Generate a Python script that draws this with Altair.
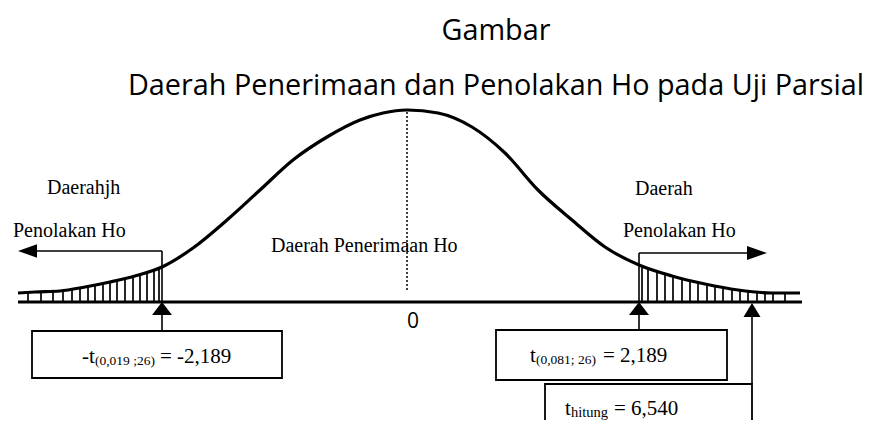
import altair as alt
import pandas as pd

# ---------------- values ----------------
title_lines = ["Gambar", "Daerah Penerimaan dan Penolakan Ho pada Uji Parsial"]

# bell curve outline (x: offset from the centre line, y: height above the axis)
curve_x = [-389, -372, -347, -322, -297, -272, -245, -214, -180, -147, -114, -80, -47, -24, 0,
           31, 65, 98, 131, 165, 198, 232, 265, 298, 331, 365, 393]
curve_y = [9, 10, 11, 15, 20, 26, 35, 54, 82, 112, 142, 165, 182, 189, 192,
           189, 175, 149, 112, 82, 55, 37, 26, 18, 12, 9, 9]

# hatching in the two rejection tails
hatch_left_x = [-379, -366, -354, -344, -335, -327, -319, -312, -304, -297, -290,
                -282, -274, -267, -260, -253, -248]
hatch_right_x = [235, 241, 250, 258, 266, 275, 283, 291, 300, 308, 316, 325, 333,
                 341, 350, 358, 366, 378]

# marker positions on the axis
crit_left_pos = -245
crit_right_pos = 232
t_hitung_pos = 345

region_labels = ["Daerahjh", "Penolakan Ho", "Daerah Penerimaan Ho", "Daerah", "Penolakan Ho"]
t_crit_left_label = ["-t", "(0,019 ;26)", "= -2,189"]
t_crit_right_label = ["t", "(0,081; 26)", "= 2,189"]
t_hitung_label = ["t", "hitung", "= 6,540"]
centre_label = "0"

# ---------------- layout tables ----------------
curve = pd.DataFrame({"x": curve_x, "y": curve_y})
hatch = pd.DataFrame({"x": hatch_left_x + hatch_right_x})

segments = pd.DataFrame([
    # axis
    {"x": -389, "y": 0, "x2": 395, "y2": 0, "w": 3.2},
    # left critical line + arrow shaft
    {"x": crit_left_pos, "y": 0, "x2": crit_left_pos, "y2": 51, "w": 1.6},
    {"x": crit_left_pos, "y": 51, "x2": -370, "y2": 51, "w": 1.6},
    # right critical line + arrow shaft
    {"x": crit_right_pos, "y": 0, "x2": crit_right_pos, "y2": 49, "w": 1.6},
    {"x": crit_right_pos, "y": 49, "x2": 340, "y2": 49, "w": 1.6},
    # stems below the axis
    {"x": crit_left_pos, "y": -13, "x2": crit_left_pos, "y2": -29, "w": 1.6},
    {"x": crit_right_pos, "y": -13, "x2": crit_right_pos, "y2": -28, "w": 1.6},
    {"x": t_hitung_pos, "y": -14, "x2": t_hitung_pos, "y2": -82, "w": 1.6},
])

boxes = pd.DataFrame([
    {"x": -375, "x2": -125, "y": -29, "y2": -76},
    {"x": 89, "x2": 320, "y": -28, "y2": -78},
    {"x": 138, "x2": t_hitung_pos, "y": -82, "y2": -135},
])

heads_left = pd.DataFrame([{"x": -379.5, "y": 51}])
heads_right = pd.DataFrame([{"x": 350, "y": 49}])
heads_up = pd.DataFrame([{"x": crit_left_pos, "y": -6.5}, {"x": crit_right_pos, "y": -6.5}])
head_hitung = pd.DataFrame([{"x": t_hitung_pos, "y": -8}])

serif_texts = pd.DataFrame(
    [
        {"text": region_labels[0], "x": -360, "y": 108, "size": 20},
        {"text": region_labels[1], "x": -394, "y": 65, "size": 20},
        {"text": region_labels[2], "x": -136, "y": 50, "size": 20},
        {"text": region_labels[3], "x": 228, "y": 107, "size": 20},
        {"text": region_labels[4], "x": 216, "y": 65, "size": 20},
        {"text": t_crit_left_label[0], "x": -325, "y": -61, "size": 21},
        {"text": t_crit_left_label[1], "x": -312, "y": -63, "size": 13.5},
        {"text": t_crit_left_label[2], "x": -247, "y": -61, "size": 21},
        {"text": t_crit_right_label[0], "x": 123, "y": -60, "size": 21},
        {"text": t_crit_right_label[1], "x": 129, "y": -62, "size": 13.5},
        {"text": t_crit_right_label[2], "x": 196, "y": -60, "size": 21},
        {"text": t_hitung_label[0], "x": 158, "y": -113, "size": 21},
        {"text": t_hitung_label[1], "x": 164, "y": -115, "size": 14.5},
        {"text": t_hitung_label[2], "x": 207, "y": -113, "size": 21},
    ]
)

sans_texts = pd.DataFrame(
    [
        {"text": title_lines[0], "x": 89, "y": 262, "size": 28.8},
        {"text": title_lines[1], "x": 89, "y": 207, "size": 28.8},
        {"text": centre_label, "x": 6, "y": -26, "size": 21},
    ]
)

# ---------------- scales ----------------
xs = alt.Scale(domain=[-399, 457], nice=False, zero=False)
ys = alt.Scale(domain=[-118, 294], nice=False, zero=False)
X = lambda f="x": alt.X(f"{f}:Q", scale=xs, axis=None)
Y = lambda f="y": alt.Y(f"{f}:Q", scale=ys, axis=None)

hatch_layer = alt.Chart(hatch).mark_rule(color="black", strokeWidth=1.7).encode(
    x=X(), y=Y("y0"), y2=alt.Y2("y1:Q"),
).transform_calculate(y0="0", y1="38")

mask_layer = alt.Chart(curve).mark_area(color="white", interpolate="monotone", opacity=1).encode(
    x=X(), y=Y(), y2=alt.Y2("top:Q"),
).transform_calculate(top="42")

segment_layer = alt.Chart(segments).mark_rule(color="black").encode(
    x=X(), y=Y(), x2=alt.X2("x2:Q"), y2=alt.Y2("y2:Q"),
    strokeWidth=alt.StrokeWidth("w:Q", scale=None),
)

curve_layer = alt.Chart(curve).mark_line(color="black", strokeWidth=3.2, interpolate="monotone").encode(
    x=X(), y=Y(),
)

dotted_layer = alt.Chart(pd.DataFrame([{"x": 0, "y": 12, "y2": 191}])).mark_rule(
    color="black", strokeWidth=1.5, strokeDash=[2, 2]
).encode(x=X(), y=Y(), y2=alt.Y2("y2:Q"))

box_layer = alt.Chart(boxes).mark_rect(fill="white", stroke="black", strokeWidth=1.8).encode(
    x=X(), x2=alt.X2("x2:Q"), y=Y(), y2=alt.Y2("y2:Q"),
)

def head(df, shape, size):
    return alt.Chart(df).mark_point(
        shape=shape, size=size, filled=True, color="black", opacity=1, strokeWidth=0
    ).encode(x=X(), y=Y())

heads = (
    head(heads_left, "M-1,0L1,-0.7L1,0.7Z", 361)
    + head(heads_right, "M1,0L-1,-0.7L-1,0.7Z", 400)
    + head(heads_up, "M0,-0.65L1,0.65L-1,0.65Z", 400)
    + head(head_hitung, "M0,-0.82L1,0.82L-1,0.82Z", 289)
)

serif_layer = alt.Chart(serif_texts).mark_text(
    font="Liberation Serif", align="left", baseline="alphabetic", color="black"
).encode(x=X(), y=Y(), text="text:N", size=alt.Size("size:Q", scale=None))

sans_layer = alt.Chart(sans_texts).mark_text(
    font="Open Sans", align="center", baseline="alphabetic", color="black"
).encode(x=X(), y=Y(), text="text:N", size=alt.Size("size:Q", scale=None))

chart = (
    alt.layer(
        hatch_layer, mask_layer, box_layer, segment_layer, curve_layer, dotted_layer,
        heads, serif_layer, sans_layer,
    )
    .properties(width=856, height=412, padding=0, autosize="none", background="white")
    .configure_view(stroke=None)
)

chart.save("out.html", embed_options={"renderer": "svg", "actions": False})
